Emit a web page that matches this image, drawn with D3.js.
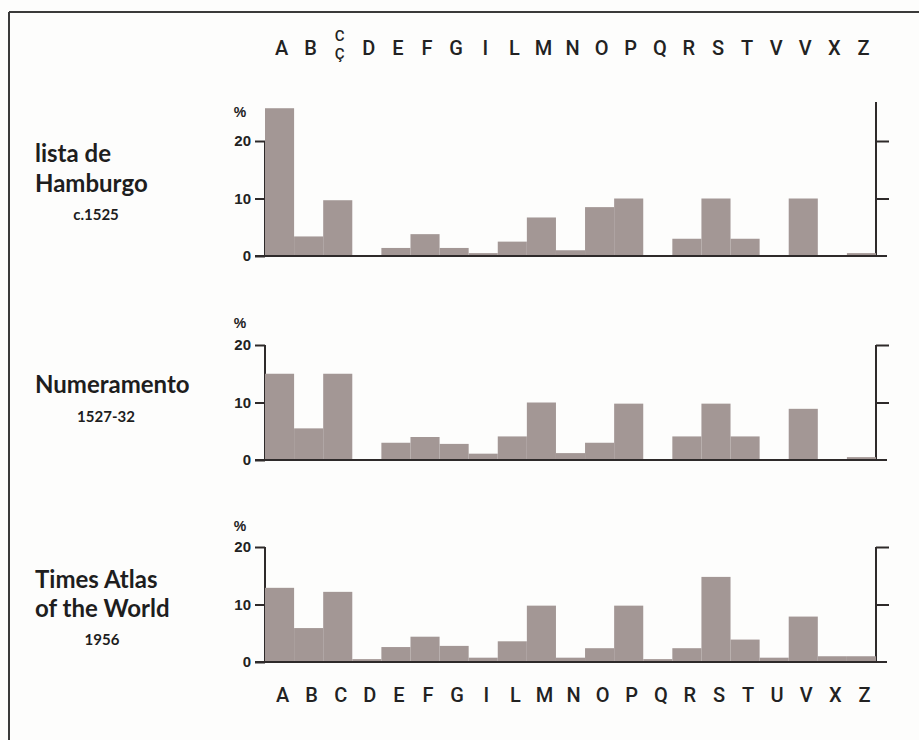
<!DOCTYPE html>
<html>
<head>
<meta charset="utf-8">
<script src="https://cdn.jsdelivr.net/npm/d3@7"></script>
<style>
  html, body { margin: 0; padding: 0; background: #fdfdfc; }
  svg { display: block; }
</style>
</head>
<body>
<svg id="chart" width="919" height="740"></svg>
<script>
// ---------- DATA ----------
const topLetters = ["A","B","C","D","E","F","G","I","L","M","N","O","P","Q","R","S","T","V","V","X","Z"];
const bottomLetters = ["A","B","C","D","E","F","G","I","L","M","N","O","P","Q","R","S","T","U","V","X","Z"];
const hamburgo = [25.7,3.4,9.7,0,1.4,3.8,1.4,0.5,2.5,6.7,1.0,8.5,10.0,0,3.0,10.0,3.0,0,10.0,0,0.5];
const numeramento = [15.0,5.5,15.0,0,3.0,4.0,2.8,1.1,4.1,10.0,1.2,3.0,9.8,0,4.1,9.8,4.1,0,8.9,0,0.5];
const timesAtlas = [12.9,5.9,12.2,0.5,2.6,4.4,2.8,0.75,3.6,9.8,0.75,2.4,9.8,0.5,2.4,14.8,3.9,0.75,7.9,1.0,1.0];
const leftTicks = [0,10,20];
const rightTicks = [10,20];
const titles = [["lista de","Hamburgo"],["Numeramento"],["Times Atlas","of the World"]];
const subtitles = ["c.1525","1527-32","1956"];
const seriesList = [hamburgo, numeramento, timesAtlas];

// ---------- LAYOUT ----------
const svg = d3.select("#chart");
const barColor = "#a39795";
const axisColor = "#2e2a2a";
const letterFont = "Roboto, 'Liberation Sans', Arial, sans-serif";
const tickFont = "'Liberation Sans', Arial, sans-serif";
const titleFont = "Lato, 'Open Sans', sans-serif";

svg.append("rect").attr("width",919).attr("height",740).attr("fill","#fdfdfc");
// frame (left & top edge)
svg.append("line").attr("x1",9).attr("x2",9).attr("y1",12).attr("y2",740).attr("stroke","#3a3a3a").attr("stroke-width",2);
svg.append("line").attr("x1",9).attr("x2",919).attr("y1",12).attr("y2",12).attr("stroke","#3a3a3a").attr("stroke-width",2);

const x = d3.scaleBand().domain(d3.range(21)).range([265, 876]).padding(0);

const panelGeom = [
  {zero:256, top20:141, rightTop:26.8, pctY:117, titleY:[162,192], subY:220, subX:96},
  {zero:460, top20:345, rightTop:20, pctY:328, titleY:[393], subY:422, subX:106},
  {zero:662, top20:547, rightTop:20, pctY:531, titleY:[588,617], subY:645, subX:102}
];

panelGeom.forEach((g, pi) => {
  const y = d3.scaleLinear().domain([0,20]).range([g.zero, g.top20]);
  const data = seriesList[pi];
  const gp = svg.append("g");

  // left axis
  const la = gp.append("g").attr("transform",`translate(${x.range()[0]},0)`)
    .call(d3.axisLeft(y).tickValues(leftTicks).tickSize(10).tickPadding(4).tickFormat(d3.format("d")));
  la.select(".domain").attr("stroke",axisColor).attr("stroke-width",2).attr("d",`M0,${y(0)}V${y(20)}`);
  la.selectAll(".tick line").attr("stroke",axisColor).attr("stroke-width",2);
  la.selectAll(".tick text").attr("fill","#222").style("font-family",tickFont).style("font-weight","700").style("font-size","15px");

  // right axis
  const ra = gp.append("g").attr("transform",`translate(${x.range()[1]},0)`)
    .call(d3.axisRight(y).tickValues(rightTicks).tickSize(13).tickFormat(""));
  ra.select(".domain").attr("stroke",axisColor).attr("stroke-width",2).attr("d",`M0,${y(0)}V${y(g.rightTop)}`);
  ra.selectAll(".tick line").attr("stroke",axisColor).attr("stroke-width",2);

  // bars
  gp.selectAll("rect.bar").data(data).join("rect")
    .attr("class","bar")
    .attr("x",(d,i)=>x(i))
    .attr("width",x.bandwidth())
    .attr("y",d=>y(d))
    .attr("height",d=>y(0)-y(d))
    .attr("fill",barColor);

  // baseline
  gp.append("line").attr("x1",255).attr("x2",887).attr("y1",y(0)).attr("y2",y(0))
    .attr("stroke",axisColor).attr("stroke-width",2);

  // percent label
  gp.append("text").attr("x",240).attr("y",g.pctY).attr("text-anchor","middle")
    .style("font-family",tickFont).style("font-weight","700").style("font-size","14px").attr("fill","#222").text("%");

  // titles
  titles[pi].forEach((t, li) => {
    gp.append("text").attr("x",35).attr("y",g.titleY[li])
      .style("font-family",titleFont).style("font-weight","700").style("font-size","24px").attr("fill","#1e1e1e").text(t);
  });
  gp.append("text").attr("x",g.subX).attr("y",g.subY).attr("text-anchor","middle")
    .style("font-family",titleFont).style("font-weight","700").style("font-size","15px").attr("fill","#1e1e1e").text(subtitles[pi]);
});

// top letters
const topG = svg.append("g");
topLetters.forEach((L, i) => {
  const cx = x(i) + x.bandwidth()/2 + 2;
  if (i === 2) {
    topG.append("text").attr("x",cx).attr("y",41).attr("text-anchor","middle")
      .style("font-family",letterFont).style("font-size","15px").style("font-weight","500").attr("fill","#222").text("C");
    topG.append("text").attr("x",cx).attr("y",59).attr("text-anchor","middle")
      .style("font-family",letterFont).style("font-size","15px").style("font-weight","500").attr("fill","#222").text("Ç");
  } else {
    topG.append("text").attr("x",cx).attr("y",55).attr("text-anchor","middle")
      .style("font-family",letterFont).style("font-size","20px").style("font-weight","500").attr("fill","#222").text(L);
  }
});

// bottom axis letters
const xb = d3.scaleBand().domain(bottomLetters.map((d,i)=>i)).range([x.range()[0]+3, x.range()[1]+3]);
const ba = svg.append("g").attr("transform","translate(0,702)")
  .call(d3.axisBottom(xb).tickSize(0).tickPadding(0).tickFormat(i=>bottomLetters[i]));
ba.select(".domain").remove();
ba.selectAll(".tick text").attr("dy","0").attr("fill","#222")
  .style("font-family",letterFont).style("font-size","20px").style("font-weight","500");
</script>
</body>
</html>
